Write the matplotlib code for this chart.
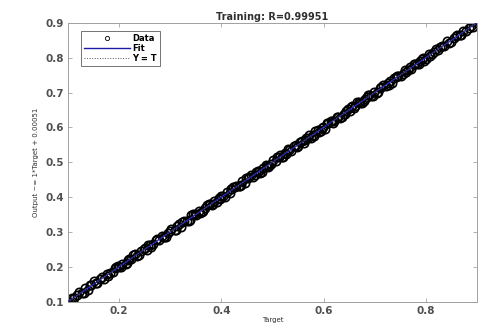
import numpy as np
import matplotlib
matplotlib.use("Agg")
import matplotlib.pyplot as plt

title = "Training: R=0.99951"
xlabel = "Target"
ylabel = "Output ~= 1*Target + 0.00051"
ticks = [0.2, 0.4, 0.6, 0.8]
yticks = [0.1, 0.2, 0.3, 0.4, 0.5, 0.6, 0.7, 0.8, 0.9]

targets_a = [
    0.100, 0.108, 0.113, 0.121, 0.127, 0.134, 0.139, 0.146, 0.152, 0.158,
    0.163, 0.171, 0.176, 0.182, 0.189, 0.195, 0.201, 0.206, 0.213, 0.219,
    0.224, 0.231, 0.236, 0.243, 0.248, 0.254, 0.261, 0.266, 0.272, 0.279,
    0.284, 0.291, 0.296, 0.302, 0.309, 0.314, 0.321, 0.327, 0.332, 0.338,
    0.345, 0.351, 0.356, 0.362, 0.368, 0.375, 0.381, 0.386, 0.392, 0.399,
    0.404, 0.411, 0.416, 0.422, 0.429, 0.434, 0.441, 0.446, 0.452, 0.458,
    0.465, 0.471, 0.476, 0.482, 0.489, 0.494, 0.501, 0.506, 0.512, 0.519,
    0.524, 0.531, 0.536, 0.542, 0.549, 0.554, 0.561, 0.566, 0.572, 0.579,
    0.584, 0.591, 0.596, 0.602, 0.609, 0.614, 0.621, 0.626, 0.632, 0.639,
    0.644, 0.651, 0.656, 0.662, 0.669, 0.674, 0.681, 0.686, 0.692, 0.699,
    0.704, 0.711, 0.716, 0.722, 0.729, 0.734, 0.741, 0.746, 0.752, 0.759,
    0.764, 0.771, 0.776, 0.782, 0.789, 0.794, 0.801, 0.806, 0.812, 0.819,
    0.824, 0.831, 0.836, 0.842, 0.849, 0.854, 0.861, 0.866, 0.872, 0.879,
    0.884, 0.891, 0.900,
    0.198, 0.215, 0.257, 0.288, 0.318, 0.341, 0.359, 0.378, 0.397, 0.418,
    0.437, 0.455, 0.473, 0.492, 0.509, 0.527, 0.545, 0.563, 0.581, 0.598,
    0.617, 0.635, 0.653, 0.671, 0.688, 0.707, 0.725, 0.743, 0.761, 0.779,
    0.797, 0.815,
]
residuals_a = [
    0.000, 0.004, -0.003, 0.006, -0.002, 0.005, -0.005, 0.003, 0.007, -0.004,
    0.002, -0.006, 0.005, 0.001, -0.003, 0.006, -0.001, 0.004, -0.005, 0.003,
    -0.002, 0.007, -0.004, 0.002, 0.005, -0.006, 0.003, -0.001, 0.006, -0.003,
    0.004, -0.005, 0.002, 0.006, -0.002, 0.003, -0.006, 0.005, 0.001, -0.004,
    0.006, -0.003, 0.004, -0.005, 0.002, 0.007, -0.002, 0.003, -0.006, 0.005,
    -0.001, 0.004, -0.005, 0.006, 0.002, -0.003, 0.005, -0.004, 0.003, 0.007,
    -0.002, 0.005, -0.006, 0.003, 0.001, -0.004, 0.006, -0.003, 0.004, -0.005,
    0.002, 0.006, -0.003, 0.005, -0.001, 0.004, -0.006, 0.003, 0.007, -0.002,
    0.005, -0.004, 0.002, -0.006, 0.004, 0.006, -0.002, 0.003, -0.005, 0.001,
    0.004, -0.003, 0.006, -0.001, 0.005, -0.004, 0.002, 0.007, -0.003, 0.004,
    -0.005, 0.003, 0.006, -0.002, 0.004, -0.006, 0.005, 0.001, -0.003, 0.006,
    0.002, -0.004, 0.005, -0.001, 0.003, 0.006, -0.005, 0.004, -0.002, 0.005,
    -0.003, 0.004, -0.001, 0.006, -0.004, 0.003, 0.005, -0.002, 0.004, -0.003,
    0.002, -0.002, 0.000,
    0.005, -0.004, 0.006, -0.003, 0.004, 0.007, -0.005, 0.003, -0.002, 0.006,
    -0.006, 0.004, 0.002, -0.004, 0.005, -0.003, 0.006, 0.001, -0.005, 0.004,
    0.003, -0.006, 0.005, -0.002, 0.006, -0.004, 0.003, 0.005, -0.003, 0.004,
    -0.005, 0.002,
]
targets_b = [
    0.104, 0.117, 0.131, 0.143, 0.155, 0.167, 0.179, 0.192, 0.204, 0.217,
    0.228, 0.239, 0.251, 0.263, 0.275, 0.287, 0.299, 0.311, 0.324, 0.336,
    0.348, 0.365, 0.372, 0.384, 0.395, 0.407, 0.419, 0.426, 0.439, 0.449,
    0.461, 0.468, 0.479, 0.487, 0.497, 0.515, 0.521, 0.533, 0.547, 0.557,
    0.569, 0.576, 0.588, 0.594, 0.606, 0.619, 0.628, 0.642, 0.648, 0.659,
    0.666, 0.678, 0.684, 0.696, 0.713, 0.727, 0.738, 0.756, 0.768, 0.786,
    0.792, 0.808, 0.827, 0.845, 0.858, 0.869, 0.887,
]
residuals_b = [
    -0.004, 0.003, -0.006, 0.005, -0.002, 0.004, -0.005, 0.006, -0.003, 0.002,
    0.006, -0.004, 0.003, -0.006, 0.005, -0.002, 0.004, -0.005, 0.006, -0.003,
    0.003, -0.005, 0.006, -0.002, 0.004, -0.006, 0.005, 0.002, -0.004, 0.006,
    -0.003, 0.005, -0.006, 0.004, -0.002, 0.006, -0.005, 0.003, -0.004, 0.005,
    0.002, -0.006, 0.004, -0.003, 0.006, -0.005, 0.003, -0.002, 0.005, -0.004,
    0.006, -0.003, 0.004, -0.006, 0.002, -0.004, 0.005, -0.003, 0.006, -0.005,
    0.004, -0.002, 0.005, -0.004, 0.003, -0.005, 0.004,
]

t = np.array(targets_a + targets_b)
y = t + np.array(residuals_a + residuals_b)

fig = plt.figure(figsize=(4.81, 3.31), dpi=100)
ax = fig.add_axes([0.141, 0.088, 0.851, 0.843])

lim = [0.1, 0.9]
coef = np.polyfit(t, y, 1)
ax.plot(t, y, 'o', mfc='none', mec='black', ms=6, mew=1.2, label='Data', zorder=2)
ax.plot(lim, np.polyval(coef, lim), '-', color='#1a1aa6', lw=1.0, label='Fit', zorder=3)
ax.plot(lim, lim, ':', color='#555555', lw=0.7, label='Y = T', zorder=4)

ax.set_xlim(lim)
ax.set_ylim(lim)
ax.set_xticks(ticks)
ax.set_yticks(yticks)
ax.set_xticklabels([f"{v:.1f}" for v in ticks], fontsize=7.5, fontweight='bold', color='#505050')
ax.set_yticklabels([f"{v:.1f}" for v in yticks], fontsize=7.5, fontweight='bold', color='#505050')
ax.tick_params(direction='in', length=3, width=0.5, top=True, right=True, colors='#909090', labelcolor='#505050', pad=3)
for s in ax.spines.values():
    s.set_color('#a0a0a0')
    s.set_linewidth(0.7)

ax.set_title(title, fontsize=7, fontweight='bold', color='#303030', pad=2)
ax.set_xlabel(xlabel, fontsize=5, color='#303030', labelpad=1)
ax.set_ylabel(ylabel, fontsize=5, color='#303030', labelpad=4)

leg = ax.legend(loc='upper left', prop={'weight': 'bold', 'size': 6},
                frameon=True, fancybox=False, edgecolor='#505050', borderpad=0.35,
                handlelength=5.5, labelspacing=0.1, handletextpad=0.3,
                bbox_to_anchor=(0.022, 0.985))
leg.get_frame().set_linewidth(0.7)
leg.legend_handles[0].set_markersize(3)
leg.legend_handles[0].set_markeredgewidth(0.6)

fig.savefig("out.png", dpi=100)
